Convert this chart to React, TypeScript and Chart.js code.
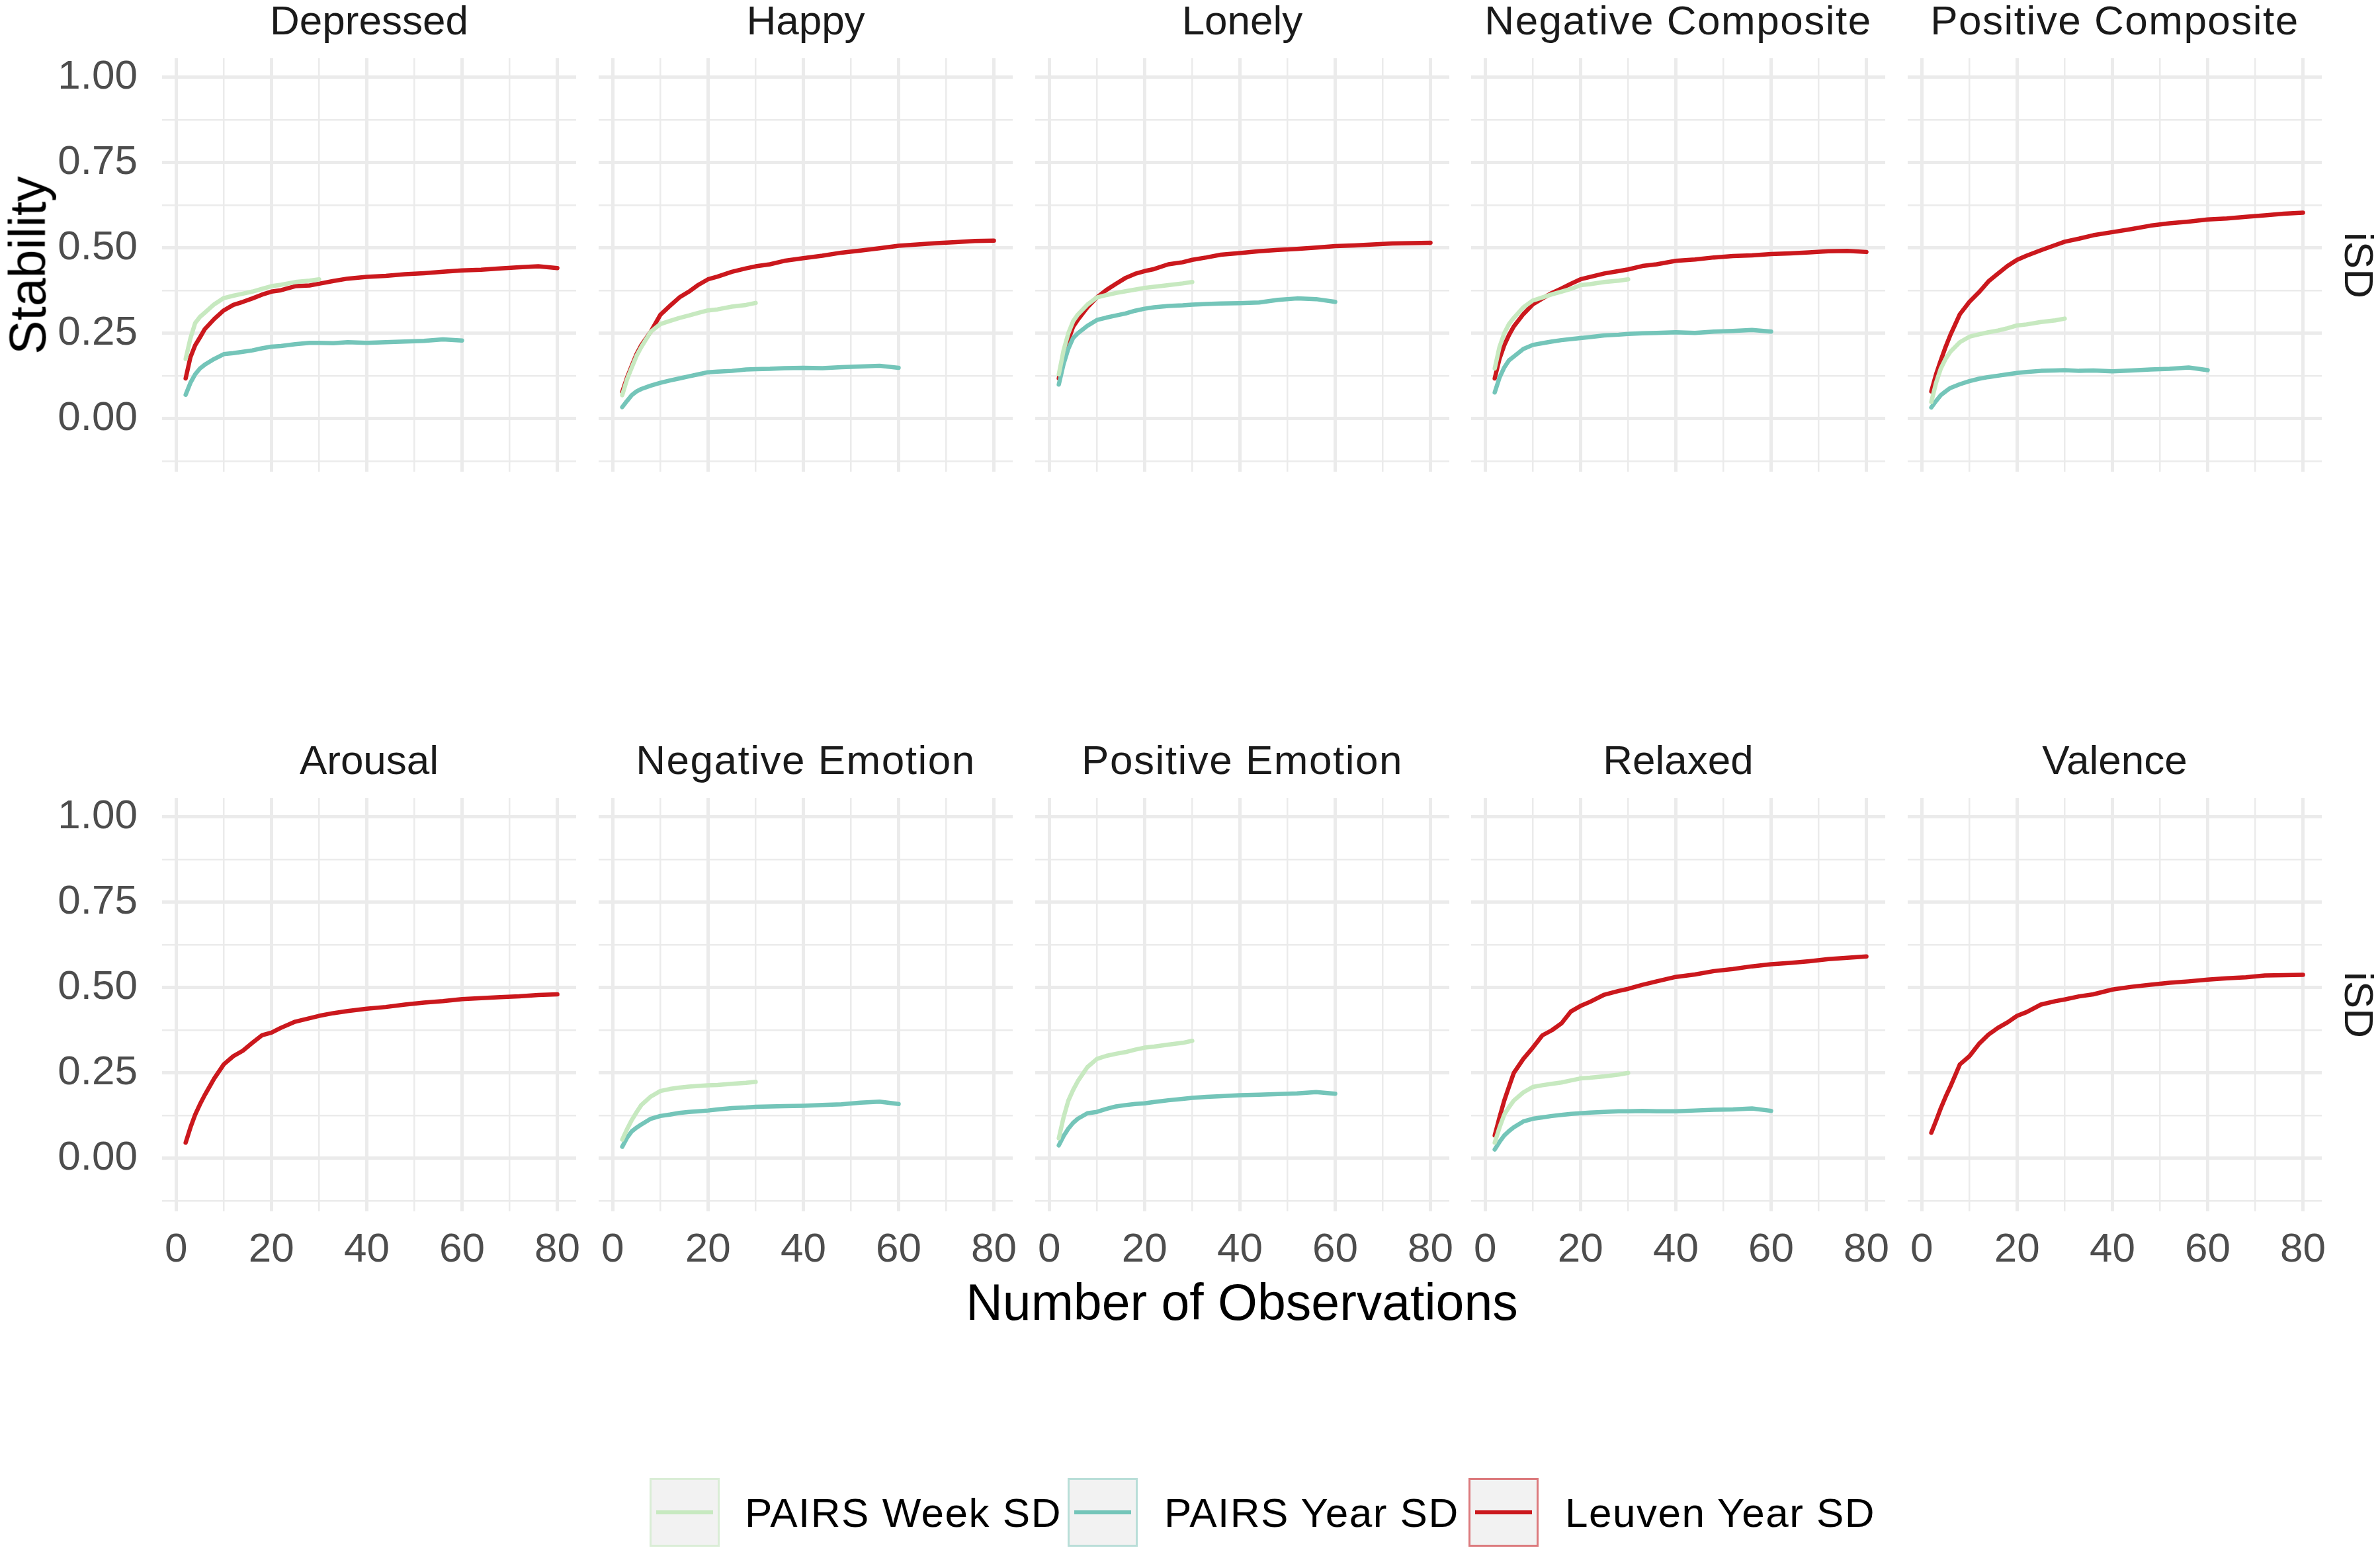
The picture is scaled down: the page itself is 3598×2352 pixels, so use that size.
import { useEffect, useRef } from "react"
import { Chart, registerables } from "chart.js"

// Register Chart.js components
Chart.register(...registerables)

const FONT = "'Liberation Sans', Arial, Helvetica, sans-serif"

// number of observations, shared by every curve (week curves stop at 30, year curves at 60)
const OBS = [2, 3, 4, 5, 6, 8, 10, 12, 14, 16, 18, 20, 22, 25, 28, 30, 33, 36, 40, 44, 48, 52, 56, 60, 64, 68, 72, 76, 80]

const X_TICKS = [0, 10, 20, 30, 40, 50, 60, 70, 80]
const Y_TICKS = [-0.125, 0, 0.125, 0.25, 0.375, 0.5, 0.625, 0.75, 0.875, 1]

const SERIES_NAMES = ["PAIRS Week SD", "PAIRS Year SD", "Leuven Year SD"]
const SERIES_COLORS = ["#c7e9c0", "#74c5b9", "#cb181d"]
const SERIES_BORDERS = ["rgba(199,233,192,0.55)", "rgba(116,197,185,0.45)", "rgba(203,24,29,0.55)"]

// Depressed
const depressedWeek = [0.175, 0.235, 0.28, 0.298, 0.31, 0.335, 0.353, 0.36, 0.366, 0.372, 0.38, 0.388, 0.392, 0.4, 0.404, 0.408]
const depressedYear = [0.07, 0.105, 0.13, 0.147, 0.158, 0.175, 0.189, 0.192, 0.196, 0.2, 0.206, 0.211, 0.213, 0.218, 0.222, 0.222, 0.221, 0.224, 0.222, 0.224, 0.226, 0.228, 0.232, 0.229]
const depressedLeuven = [0.118, 0.18, 0.215, 0.238, 0.262, 0.292, 0.317, 0.333, 0.342, 0.352, 0.363, 0.372, 0.376, 0.388, 0.39, 0.395, 0.403, 0.41, 0.415, 0.418, 0.423, 0.426, 0.43, 0.434, 0.436, 0.44, 0.443, 0.446, 0.441]

// Happy
const happyWeek = [0.069, 0.115, 0.15, 0.184, 0.21, 0.255, 0.277, 0.286, 0.295, 0.302, 0.31, 0.317, 0.32, 0.328, 0.333, 0.339]
const happyYear = [0.034, 0.052, 0.069, 0.08, 0.087, 0.097, 0.105, 0.112, 0.118, 0.124, 0.13, 0.136, 0.138, 0.14, 0.144, 0.145, 0.146, 0.148, 0.149, 0.148, 0.151, 0.153, 0.155, 0.149]
const happyLeuven = [0.078, 0.12, 0.155, 0.189, 0.215, 0.255, 0.304, 0.33, 0.355, 0.372, 0.392, 0.408, 0.416, 0.43, 0.44, 0.446, 0.452, 0.462, 0.47, 0.477, 0.486, 0.492, 0.499, 0.506, 0.51, 0.514, 0.517, 0.52, 0.521]

// Lonely
const lonelyWeek = [0.13, 0.2, 0.25, 0.285, 0.305, 0.334, 0.355, 0.362, 0.368, 0.373, 0.378, 0.383, 0.386, 0.391, 0.396, 0.4]
const lonelyYear = [0.1, 0.16, 0.205, 0.236, 0.25, 0.272, 0.289, 0.296, 0.302, 0.308, 0.316, 0.322, 0.326, 0.33, 0.332, 0.334, 0.336, 0.337, 0.338, 0.34, 0.348, 0.352, 0.35, 0.342]
const lonelyLeuven = [0.118, 0.18, 0.23, 0.269, 0.29, 0.326, 0.355, 0.377, 0.395, 0.412, 0.424, 0.432, 0.438, 0.452, 0.458, 0.465, 0.472, 0.48, 0.485, 0.49, 0.494, 0.497, 0.501, 0.505, 0.507, 0.51, 0.513, 0.514, 0.515]

// Negative Composite
const negCompWeek = [0.147, 0.21, 0.25, 0.277, 0.295, 0.326, 0.346, 0.355, 0.364, 0.372, 0.38, 0.391, 0.394, 0.4, 0.404, 0.408]
const negCompYear = [0.077, 0.12, 0.15, 0.171, 0.182, 0.204, 0.216, 0.221, 0.226, 0.23, 0.233, 0.236, 0.239, 0.244, 0.246, 0.248, 0.25, 0.251, 0.253, 0.251, 0.255, 0.257, 0.26, 0.255]
const negCompLeuven = [0.118, 0.175, 0.215, 0.245, 0.27, 0.306, 0.335, 0.352, 0.368, 0.381, 0.395, 0.408, 0.415, 0.425, 0.432, 0.437, 0.447, 0.452, 0.462, 0.466, 0.472, 0.476, 0.478, 0.482, 0.484, 0.487, 0.49, 0.491, 0.488]

// Positive Composite
const posCompWeek = [0.049, 0.105, 0.147, 0.175, 0.196, 0.224, 0.24, 0.247, 0.253, 0.258, 0.265, 0.273, 0.276, 0.283, 0.288, 0.293]
const posCompYear = [0.033, 0.052, 0.069, 0.08, 0.09, 0.101, 0.11, 0.117, 0.122, 0.126, 0.13, 0.134, 0.137, 0.14, 0.141, 0.142, 0.14, 0.141, 0.139, 0.141, 0.144, 0.146, 0.15, 0.142]
const posCompLeuven = [0.08, 0.13, 0.171, 0.21, 0.245, 0.306, 0.342, 0.37, 0.402, 0.425, 0.447, 0.465, 0.477, 0.493, 0.508, 0.518, 0.527, 0.537, 0.546, 0.555, 0.565, 0.572, 0.577, 0.583, 0.586, 0.591, 0.595, 0.6, 0.603]

// Arousal
const arousalLeuven = [0.046, 0.09, 0.128, 0.158, 0.185, 0.234, 0.275, 0.299, 0.315, 0.338, 0.36, 0.368, 0.382, 0.4, 0.41, 0.417, 0.425, 0.431, 0.438, 0.443, 0.45, 0.456, 0.46, 0.466, 0.469, 0.472, 0.474, 0.478, 0.48]

// Negative Emotion
const negEmoWeek = [0.055, 0.085, 0.112, 0.135, 0.156, 0.181, 0.197, 0.203, 0.207, 0.21, 0.212, 0.214, 0.215, 0.218, 0.221, 0.224]
const negEmoYear = [0.034, 0.06, 0.079, 0.09, 0.099, 0.116, 0.124, 0.128, 0.133, 0.136, 0.138, 0.14, 0.143, 0.147, 0.149, 0.151, 0.152, 0.153, 0.154, 0.156, 0.158, 0.163, 0.166, 0.159]

// Positive Emotion
const posEmoWeek = [0.059, 0.12, 0.169, 0.2, 0.226, 0.267, 0.291, 0.3, 0.306, 0.311, 0.318, 0.324, 0.327, 0.333, 0.338, 0.344]
const posEmoYear = [0.038, 0.065, 0.087, 0.104, 0.116, 0.132, 0.136, 0.145, 0.152, 0.156, 0.159, 0.161, 0.165, 0.17, 0.174, 0.177, 0.18, 0.182, 0.185, 0.186, 0.188, 0.19, 0.194, 0.189]

// Relaxed
const relaxedWeek = [0.046, 0.09, 0.128, 0.15, 0.169, 0.193, 0.209, 0.214, 0.218, 0.222, 0.228, 0.234, 0.236, 0.24, 0.245, 0.25]
const relaxedYear = [0.026, 0.048, 0.067, 0.08, 0.091, 0.108, 0.116, 0.12, 0.124, 0.127, 0.13, 0.132, 0.134, 0.136, 0.138, 0.138, 0.139, 0.138, 0.138, 0.14, 0.142, 0.143, 0.146, 0.139]
const relaxedLeuven = [0.067, 0.12, 0.169, 0.21, 0.25, 0.291, 0.324, 0.36, 0.375, 0.395, 0.43, 0.446, 0.458, 0.479, 0.49, 0.496, 0.508, 0.518, 0.531, 0.538, 0.548, 0.554, 0.562, 0.568, 0.572, 0.577, 0.583, 0.587, 0.591]

// Valence
const valenceLeuven = [0.075, 0.11, 0.147, 0.18, 0.21, 0.275, 0.299, 0.335, 0.362, 0.382, 0.398, 0.417, 0.428, 0.45, 0.46, 0.465, 0.474, 0.48, 0.494, 0.502, 0.508, 0.514, 0.518, 0.523, 0.527, 0.53, 0.535, 0.536, 0.537]

interface Facet {
  name: string
  week?: number[]
  year?: number[]
  leuven?: number[]
}

const FACETS: Facet[] = [
  { name: "Depressed", week: depressedWeek, year: depressedYear, leuven: depressedLeuven },
  { name: "Happy", week: happyWeek, year: happyYear, leuven: happyLeuven },
  { name: "Lonely", week: lonelyWeek, year: lonelyYear, leuven: lonelyLeuven },
  { name: "Negative Composite", week: negCompWeek, year: negCompYear, leuven: negCompLeuven },
  { name: "Positive Composite", week: posCompWeek, year: posCompYear, leuven: posCompLeuven },
  { name: "Arousal", leuven: arousalLeuven },
  { name: "Negative Emotion", week: negEmoWeek, year: negEmoYear },
  { name: "Positive Emotion", week: posEmoWeek, year: posEmoYear },
  { name: "Relaxed", week: relaxedWeek, year: relaxedYear, leuven: relaxedLeuven },
  { name: "Valence", leuven: valenceLeuven },
]

// layout (px)
const PANEL_W = 626
const PANEL_H = 625
const COL_LEFT = [245, 905, 1565, 2224, 2884]
const ROW_TOP = [88, 1206]
const Y_AXIS_W = 245
const X_AXIS_H = 110
const PAD = 40

const isMultiple = (v: number, step: number) => Math.abs(v / step - Math.round(v / step)) < 1e-6

function FacetPanel({ facet, index }: { facet: Facet; index: number }) {
  const chartRef = useRef<HTMLCanvasElement>(null)
  const row = Math.floor(index / 5)
  const col = index % 5
  const axisW = col === 0 ? Y_AXIS_W : 0
  const axisH = row === 1 ? X_AXIS_H : 0

  useEffect(() => {
    if (!chartRef.current) return
    const ctx = chartRef.current.getContext("2d")
    if (!ctx) return

    const series = [facet.week, facet.year, facet.leuven]
    const datasets = series
      .map((vals, k) =>
        vals
          ? {
              label: SERIES_NAMES[k],
              data: vals.map((v, i) => ({ x: OBS[i], y: v })),
              borderColor: SERIES_COLORS[k],
              borderWidth: 6.5,
              pointRadius: 0,
              tension: 0,
              fill: false,
              borderCapStyle: "round" as const,
              borderJoinStyle: "round" as const,
            }
          : null
      )
      .filter((d) => d !== null)

    const tickFont = { family: FONT, size: 62 }

    const chart = new Chart(ctx, {
      type: "line",
      data: { datasets: datasets as any },
      options: {
        responsive: true,
        maintainAspectRatio: false,
        animation: false,
        events: [],
        layout: { padding: PAD, autoPadding: false },
        plugins: { legend: { display: false }, tooltip: { enabled: false } },
        scales: {
          x: {
            type: "linear",
            min: -2.95,
            max: 83.95,
            afterBuildTicks: (scale) => {
              scale.ticks = X_TICKS.map((v) => ({ value: v }))
            },
            afterFit: (scale) => {
              scale.height = axisH
              scale.paddingLeft = 0
              scale.paddingRight = 0
            },
            border: { display: false },
            grid: {
              color: "#ebebeb",
              drawTicks: false,
              lineWidth: (c: any) => (isMultiple(c.tick.value, 20) ? 5 : 2.5),
            },
            ticks: {
              display: row === 1,
              autoSkip: false,
              maxRotation: 0,
              padding: 22,
              color: "#4d4d4d",
              font: tickFont,
              callback: (v) => (isMultiple(Number(v), 20) ? String(v) : ""),
            },
          },
          y: {
            type: "linear",
            min: -0.155,
            max: 1.055,
            afterBuildTicks: (scale) => {
              scale.ticks = Y_TICKS.map((v) => ({ value: v }))
            },
            afterFit: (scale) => {
              scale.width = axisW
              scale.paddingTop = 0
              scale.paddingBottom = 0
            },
            border: { display: false },
            grid: {
              color: "#ebebeb",
              drawTicks: false,
              lineWidth: (c: any) => (isMultiple(c.tick.value, 0.25) ? 5 : 2.5),
            },
            ticks: {
              display: col === 0,
              autoSkip: false,
              padding: 37,
              color: "#4d4d4d",
              font: tickFont,
              callback: (v) => (isMultiple(Number(v), 0.25) ? Number(v).toFixed(2) : ""),
            },
          },
        },
      },
    })

    return () => {
      chart.destroy()
    }
  }, [facet, axisW, axisH, row, col])

  return (
    <>
      <div
        style={{
          position: "absolute",
          left: COL_LEFT[col] - axisW - PAD,
          top: ROW_TOP[row] - PAD,
          width: PANEL_W + axisW + 2 * PAD,
          height: PANEL_H + axisH + 2 * PAD,
        }}
      >
        <canvas ref={chartRef} />
      </div>
      <div
        style={{
          position: "absolute",
          left: COL_LEFT[col] - 20,
          width: PANEL_W + 40,
          top: ROW_TOP[row] - 58 - 34,
          lineHeight: "70px",
          fontSize: 62,
          letterSpacing: facet.name.length > 12 ? 1.5 : 0,
          textAlign: "center",
          color: "#1a1a1a",
          whiteSpace: "nowrap",
        }}
      >
        {facet.name}
      </div>
    </>
  )
}

function Rotated({ text, x, y, size, angle, color }: { text: string; x: number; y: number; size: number; angle: number; color: string }) {
  return (
    <div
      style={{
        position: "absolute",
        left: x,
        top: y,
        transform: `translate(-50%, -50%) rotate(${angle}deg)`,
        fontSize: size,
        lineHeight: `${size}px`,
        color,
        whiteSpace: "nowrap",
      }}
    >
      {text}
    </div>
  )
}

const LEGEND_KEY_LEFT = [982, 1614, 2220]
const LEGEND_TEXT_LEFT = [1126, 1760, 2366]

export default function App() {
  return (
    <div
      style={{
        position: "absolute",
        left: 0,
        top: 0,
        width: 3598,
        height: 2352,
        background: "#ffffff",
        fontFamily: FONT,
        overflow: "hidden",
      }}
    >
      {FACETS.map((f, i) => (
        <FacetPanel key={f.name} facet={f} index={i} />
      ))}

      <Rotated text="iSD" x={3566} y={ROW_TOP[0] + PANEL_H / 2} size={62} angle={90} color="#1a1a1a" />
      <Rotated text="iSD" x={3566} y={ROW_TOP[1] + PANEL_H / 2} size={62} angle={90} color="#1a1a1a" />
      <Rotated text="Stability" x={42} y={ROW_TOP[0] + PANEL_H / 2} size={77} angle={-90} color="#000000" />

      <div
        style={{
          position: "absolute",
          left: COL_LEFT[0],
          width: COL_LEFT[4] + PANEL_W - COL_LEFT[0],
          top: 1925,
          lineHeight: "86px",
          fontSize: 77,
          textAlign: "center",
          color: "#000000",
          whiteSpace: "nowrap",
        }}
      >
        Number of Observations
      </div>

      {SERIES_NAMES.map((name, k) => (
        <div key={name}>
          <div
            style={{
              position: "absolute",
              left: LEGEND_KEY_LEFT[k],
              top: 2234,
              width: 106,
              height: 104,
              boxSizing: "border-box",
              background: "#f2f2f2",
              border: `3px solid ${SERIES_BORDERS[k]}`,
            }}
          >
            <div
              style={{
                position: "absolute",
                left: 7,
                right: 7,
                top: 46,
                height: 6,
                background: SERIES_COLORS[k],
              }}
            />
          </div>
          <div
            style={{
              position: "absolute",
              left: LEGEND_TEXT_LEFT[k],
              top: 2252,
              lineHeight: "70px",
              fontSize: 62,
              letterSpacing: 1.5,
              color: "#000000",
              whiteSpace: "nowrap",
            }}
          >
            {name}
          </div>
        </div>
      ))}
    </div>
  )
}
